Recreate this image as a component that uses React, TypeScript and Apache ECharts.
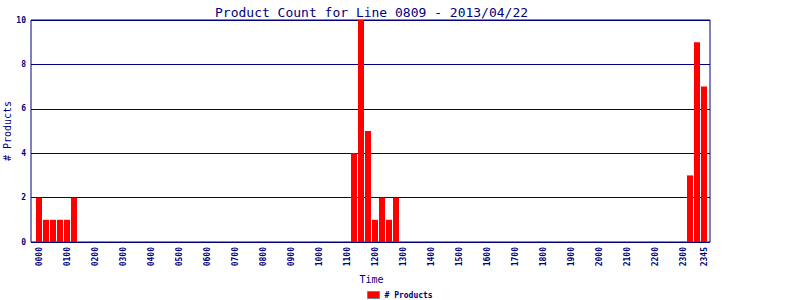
import React, { useEffect, useRef } from "react";
import * as echarts from "echarts";

const times: string[] = [];
for (let h = 0; h < 24; h++) {
  for (const m of ["00", "15", "30", "45"]) {
    times.push(String(h).padStart(2, "0") + m);
  }
}

// non-zero counts by slot index (15-minute slots)
const countsMorning = [2, 1, 1, 1, 1, 2]; // slots 0..5
const countsNoon = [4, 10, 5, 1, 2, 1, 2]; // slots 45..51
const countsNight = [3, 9, 7]; // slots 93..95

const counts: number[] = times.map(() => 0);
countsMorning.forEach((v, i) => (counts[0 + i] = v));
countsNoon.forEach((v, i) => (counts[45 + i] = v));
countsNight.forEach((v, i) => (counts[93 + i] = v));

const yTicks = [0, 2, 4, 6, 8, 10];

const NAVY = "#000080";
const MONO = "DejaVu Sans Mono";

export default function App() {
  const ref = useRef<HTMLDivElement>(null);
  useEffect(() => {
    document.body.style.margin = "0";
    const chart = echarts.init(ref.current!, undefined, { renderer: "svg" });
    chart.setOption({
      animation: false,
      backgroundColor: "#ffffff",
      title: {
        text: "Product Count for Line 0809 - 2013/04/22",
        left: 210,
        top: 1,
        textStyle: { color: NAVY, fontFamily: MONO, fontSize: 13, fontWeight: "normal" },
      },
      legend: {
        data: ["# Products"],
        left: 367,
        top: 291,
        itemWidth: 12,
        itemHeight: 7,
        itemGap: 4,
        icon: "rect",
        itemStyle: { borderColor: "#808080", borderWidth: 1 },
        textStyle: { color: NAVY, fontFamily: MONO, fontSize: 8, fontWeight: "bold", padding: 0 },
        padding: 0,
      },
      graphic: [
        {
          type: "text",
          x: 7.5,
          y: 131,
          rotation: Math.PI / 2,
          style: {
            text: "# Products",
            fill: NAVY,
            font: `10px "${MONO}"`,
            textAlign: "center",
            textVerticalAlign: "middle",
          },
        },
      ],
      grid: [
        { left: 31, right: 90, top: 20, bottom: 58, show: true, borderColor: NAVY, borderWidth: 1, backgroundColor: "transparent", containLabel: false, outerBoundsMode: "none" },
        { left: 35.5, right: 92.5, top: 20, bottom: 58, containLabel: false, outerBoundsMode: "none" },
      ],
      xAxis: [
        { type: "value", gridIndex: 0, min: 0, max: 1, show: false },
        {
          type: "category",
          gridIndex: 1,
          data: times,
          boundaryGap: true,
          axisLine: { show: false },
          axisTick: { show: false },
          name: "Time",
          nameLocation: "middle",
          nameGap: 31,
          nameTextStyle: { color: NAVY, fontFamily: MONO, fontSize: 10 },
          axisLabel: {
            rotate: 90,
            margin: 5,
            color: NAVY,
            fontFamily: MONO,
            fontSize: 8,
            fontWeight: "bold",
            interval: (idx: number) => idx % 4 === 0 || idx === times.length - 1,
          },
        },
      ],
      yAxis: [
        {
          type: "value",
          gridIndex: 0,
          min: yTicks[0],
          max: yTicks[yTicks.length - 1],
          interval: 2,
          axisLine: { show: false },
          axisTick: { show: false },
          splitLine: { show: true, lineStyle: { color: NAVY, width: 1 } },
          axisLabel: { color: NAVY, fontFamily: MONO, fontSize: 8, fontWeight: "bold", margin: 5 },
        },
        { type: "value", gridIndex: 1, min: 0, max: 10, show: false },
      ],
      series: [
        {
          name: "# Products",
          type: "bar",
          xAxisIndex: 1,
          yAxisIndex: 1,
          data: counts,
          barWidth: 6,
          itemStyle: { color: "#ff0000" },
        },
        { type: "line", xAxisIndex: 0, yAxisIndex: 0, data: [], silent: true },
      ],
    });
    return () => chart.dispose();
  }, []);
  return <div ref={ref} style={{ width: 800, height: 300 }} />;
}
